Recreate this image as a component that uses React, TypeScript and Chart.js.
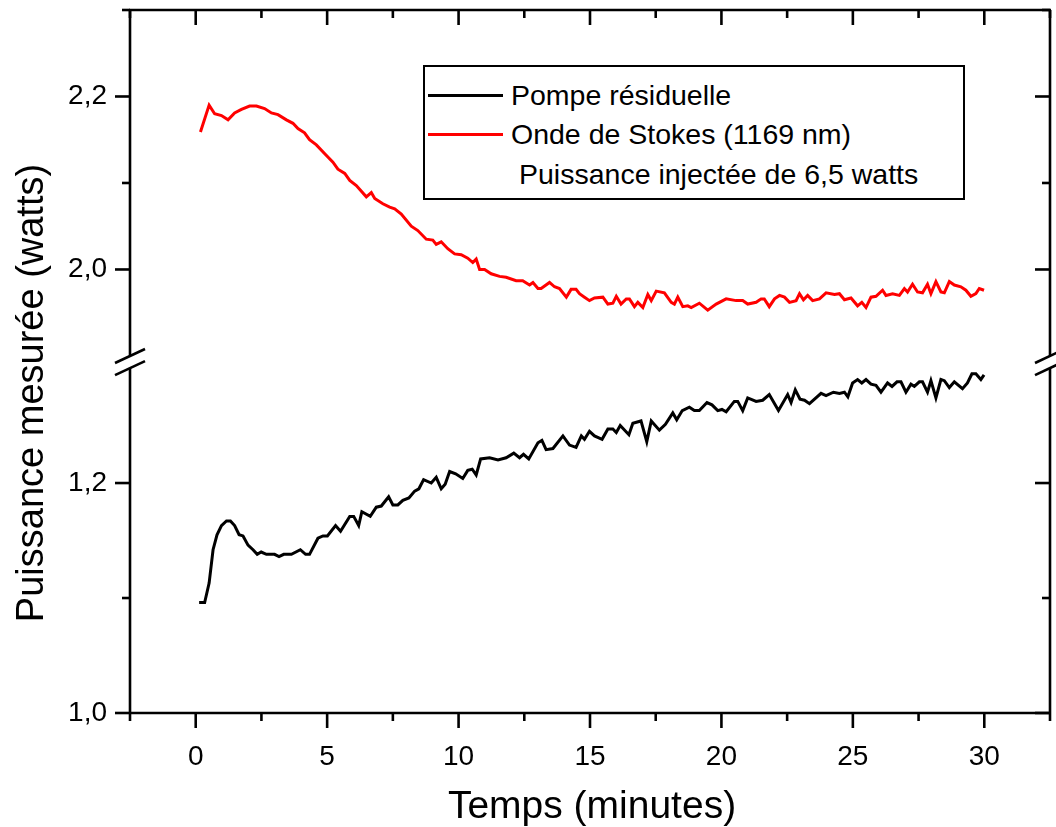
import React, { useEffect, useRef } from "react";
import { Chart, registerables } from "chart.js";

Chart.register(...registerables);

const FONT = '"Liberation Sans", Arial, Helvetica, sans-serif';

// ---- Data (time in minutes, power in watts) ----
const stokesTimes = [
  0.18, 0.51, 0.72, 0.98, 1.23, 1.48, 1.74, 2.05, 2.31, 2.62, 2.88, 3.13, 3.45, 3.7, 3.89, 4.14, 4.33, 4.59, 4.9, 5.22,
  5.41, 5.67, 5.86, 6.11, 6.49, 6.68, 6.81, 7.12, 7.38, 7.57, 7.82, 8.2, 8.45, 8.77, 9.02, 9.15, 9.34, 9.59, 9.85, 10.1,
  10.35, 10.54, 10.67, 10.8, 10.99, 11.24, 11.56, 11.81, 12.19, 12.44, 12.7, 12.83, 13.02, 13.14, 13.46, 13.65, 13.84, 14.1, 14.28, 14.47,
  14.6, 14.79, 14.98, 15.17, 15.49, 15.68, 15.87, 16.0, 16.18, 16.38, 16.5, 16.69, 16.82, 17.01, 17.2, 17.33, 17.52, 17.83, 18.09, 18.21,
  18.34, 18.53, 18.72, 18.85, 19.16, 19.48, 19.8, 20.18, 20.56, 20.81, 21.0, 21.32, 21.51, 21.63, 21.82, 22.02, 22.21, 22.4, 22.59, 22.84,
  22.97, 23.12, 23.28, 23.47, 23.73, 23.98, 24.3, 24.49, 24.68, 24.93, 25.18, 25.34, 25.5, 25.69, 25.88, 26.13, 26.26, 26.51, 26.77, 26.96,
  27.08, 27.27, 27.46, 27.65, 27.84, 27.97, 28.16, 28.35, 28.48, 28.67, 28.86, 29.11, 29.3, 29.49, 29.68, 29.81, 29.99,
];
const stokesPower = [
  2.159, 2.19, 2.18, 2.178, 2.173, 2.181, 2.185, 2.189, 2.189, 2.186, 2.181, 2.179, 2.173, 2.169, 2.163, 2.158, 2.15, 2.144, 2.134, 2.124,
  2.116, 2.111, 2.103, 2.097, 2.084, 2.089, 2.082, 2.076, 2.072, 2.07, 2.064, 2.05, 2.045, 2.035, 2.034, 2.029, 2.032, 2.024, 2.018, 2.017,
  2.013, 2.008, 2.012, 2.0, 2.0, 1.995, 1.992, 1.991, 1.987, 1.987, 1.982, 1.985, 1.978, 1.978, 1.985, 1.98, 1.978, 1.968, 1.977, 1.977,
  1.972, 1.968, 1.964, 1.967, 1.968, 1.96, 1.961, 1.969, 1.96, 1.966, 1.966, 1.957, 1.962, 1.956, 1.971, 1.964, 1.975, 1.973, 1.962, 1.96,
  1.968, 1.957, 1.958, 1.956, 1.961, 1.953, 1.96, 1.966, 1.964, 1.964, 1.96, 1.962, 1.966, 1.966, 1.957, 1.966, 1.97, 1.968, 1.962, 1.964,
  1.972, 1.965, 1.97, 1.964, 1.966, 1.973, 1.971, 1.972, 1.965, 1.967, 1.958, 1.962, 1.956, 1.968, 1.969, 1.976, 1.97, 1.972, 1.97, 1.978,
  1.974, 1.983, 1.974, 1.973, 1.983, 1.972, 1.986, 1.974, 1.973, 1.986, 1.982, 1.98, 1.976, 1.969, 1.972, 1.978, 1.976,
];

const pumpTimes = [
  0.13, 0.34, 0.51, 0.66, 0.81, 0.98, 1.17, 1.32, 1.48, 1.65, 1.8, 1.99, 2.18, 2.34, 2.49, 2.69, 3.0, 3.17, 3.35, 3.64,
  3.98, 4.18, 4.33, 4.65, 4.84, 5.01, 5.32, 5.51, 5.86, 6.01, 6.2, 6.32, 6.64, 6.87, 7.06, 7.34, 7.5, 7.69, 7.88, 8.11,
  8.33, 8.49, 8.67, 8.96, 9.15, 9.34, 9.49, 9.66, 9.89, 10.16, 10.35, 10.52, 10.67, 10.84, 11.18, 11.5, 11.81, 12.1, 12.32, 12.47,
  12.67, 13.02, 13.17, 13.33, 13.59, 13.97, 14.22, 14.47, 14.67, 14.79, 14.98, 15.17, 15.46, 15.68, 15.87, 16.0, 16.15, 16.48, 16.63, 16.94,
  17.16, 17.33, 17.64, 17.87, 18.15, 18.3, 18.51, 18.78, 18.97, 19.16, 19.45, 19.64, 19.86, 20.02, 20.18, 20.49, 20.62, 20.81, 21.0, 21.32,
  21.57, 21.82, 22.17, 22.52, 22.65, 22.81, 22.99, 23.16, 23.35, 23.79, 23.98, 24.26, 24.49, 24.68, 24.81, 24.99, 25.18, 25.34, 25.5, 25.69,
  25.88, 26.07, 26.32, 26.49, 26.68, 26.83, 27.02, 27.21, 27.34, 27.53, 27.65, 27.84, 27.97, 28.16, 28.35, 28.48, 28.67, 28.86, 29.17, 29.36,
  29.53, 29.68, 29.87, 29.99,
];
const pumpPower = [
  1.096, 1.096, 1.113, 1.142, 1.155, 1.163, 1.167, 1.167, 1.163, 1.155, 1.154, 1.146, 1.142, 1.138, 1.14, 1.138, 1.138, 1.136, 1.138, 1.138,
  1.142, 1.138, 1.138, 1.152, 1.154, 1.154, 1.163, 1.158, 1.171, 1.171, 1.163, 1.175, 1.171, 1.179, 1.18, 1.188, 1.181, 1.181, 1.185, 1.187,
  1.193, 1.195, 1.203, 1.2, 1.205, 1.195, 1.199, 1.21, 1.208, 1.204, 1.211, 1.212, 1.207, 1.221, 1.222, 1.22, 1.222, 1.226, 1.222, 1.225,
  1.221, 1.235, 1.237, 1.229, 1.23, 1.241, 1.233, 1.231, 1.241, 1.238, 1.245, 1.241, 1.238, 1.247, 1.247, 1.244, 1.25, 1.242, 1.252, 1.254,
  1.236, 1.254, 1.246, 1.251, 1.261, 1.255, 1.263, 1.266, 1.263, 1.263, 1.27, 1.268, 1.263, 1.264, 1.262, 1.271, 1.271, 1.263, 1.274, 1.271,
  1.272, 1.277, 1.263, 1.277, 1.27, 1.281, 1.273, 1.272, 1.269, 1.278, 1.276, 1.279, 1.278, 1.279, 1.275, 1.287, 1.29, 1.287, 1.29, 1.286,
  1.285, 1.279, 1.287, 1.284, 1.288, 1.288, 1.279, 1.286, 1.284, 1.288, 1.288, 1.279, 1.289, 1.274, 1.29, 1.289, 1.283, 1.288, 1.282, 1.287,
  1.295, 1.295, 1.29, 1.294,
];

// ---- Labels & ticks ----
const seriesLabels = ["Pompe résiduelle", "Onde de Stokes (1169 nm)"];
const seriesColors = ["#000000", "#ff0000"];
const legendNote = "Puissance injectée de 6,5 watts";
const xTitle = "Temps (minutes)";
const yTitle = "Puissance mesurée (watts)";

const xMajorTicks = [0, 5, 10, 15, 20, 25, 30];
const xMinorTicks = [-2.5, 2.5, 7.5, 12.5, 17.5, 22.5, 27.5, 32.5];
const yTopMajorTicks = [2.0, 2.2];
const yTopMajorLabels = ["2,0", "2,2"];
const yTopMinorTicks = [2.1, 2.3];
const yBottomMajorTicks = [1.0, 1.2];
const yBottomMajorLabels = ["1,0", "1,2"];
const yBottomMinorTicks = [1.1];

// axis ranges (broken y axis: upper part starts at 1.9, lower part ends at 1.3)
const X_MIN = -2.5;
const X_MAX = 32.5;
const TOP_MIN = 1.8936;
const TOP_MAX = 2.3;
const TOP_BREAK = 1.9;
const BOTTOM_MIN = 1.0;
const BOTTOM_MAX = 1.3057;
const BOTTOM_BREAK = 1.3;

const framePlugin = {
  id: "frame",
  afterDatasetsDraw(chart: any) {
    const { ctx, chartArea, scales } = chart;
    const { left, right, top, bottom } = chartArea;
    const xs = scales.x;
    const yt = scales.yTop;
    const yb = scales.yBot;
    const gapTop = yt.getPixelForValue(TOP_BREAK);
    const gapBot = yb.getPixelForValue(BOTTOM_BREAK);
    const MAJ = 15;
    const MIN = 8;
    ctx.save();
    ctx.strokeStyle = "#000";
    ctx.lineWidth = 2.6;
    ctx.lineCap = "butt";
    const seg = (x1: number, y1: number, x2: number, y2: number) => {
      ctx.beginPath();
      ctx.moveTo(x1, y1);
      ctx.lineTo(x2, y2);
      ctx.stroke();
    };
    // frame
    seg(left - 1, top, right + 1, top);
    seg(left - 1, bottom, right + 1, bottom);
    seg(left, top, left, gapTop);
    seg(left, gapBot, left, bottom);
    seg(right, top, right, gapTop);
    seg(right, gapBot, right, bottom);
    // x ticks
    xMajorTicks.forEach((v) => {
      const p = xs.getPixelForValue(v);
      seg(p, bottom, p, bottom + MAJ);
      seg(p, top, p, top + MAJ);
    });
    xMinorTicks.forEach((v) => {
      const p = xs.getPixelForValue(v);
      seg(p, bottom, p, bottom + MIN);
      seg(p, top, p, top + MIN);
    });
    // y ticks
    const yTick = (p: number, len: number) => {
      seg(left - len, p, left, p);
      seg(right - len, p, right, p);
    };
    yTopMajorTicks.forEach((v) => yTick(yt.getPixelForValue(v), MAJ));
    yTopMinorTicks.forEach((v) => yTick(yt.getPixelForValue(v), MIN));
    yBottomMajorTicks.forEach((v) => yTick(yb.getPixelForValue(v), MAJ));
    yBottomMinorTicks.forEach((v) => yTick(yb.getPixelForValue(v), MIN));
    // break marks
    [left, right].forEach((sx) => {
      seg(sx - 15, gapTop + 7, sx + 15, gapTop - 7);
      seg(sx - 15, gapBot + 7, sx + 15, gapBot - 7);
    });
    // axis titles
    ctx.fillStyle = "#000";
    ctx.font = `39px ${FONT}`;
    ctx.textAlign = "center";
    ctx.textBaseline = "alphabetic";
    ctx.fillText(xTitle, (left + right) / 2 + 2, 818);
    ctx.save();
    ctx.translate(43, 393);
    ctx.rotate(-Math.PI / 2);
    ctx.font = `38px ${FONT}`;
    ctx.fillText(yTitle, 0, 0);
    ctx.restore();
    ctx.restore();
  },
};

const fitY = (s: any) => {
  s.width = 130;
  s.paddingTop = 0;
  s.paddingBottom = 0;
};

export default function App() {
  const canvasRef = useRef<HTMLCanvasElement | null>(null);

  useEffect(() => {
    const canvas = canvasRef.current;
    if (!canvas) return;
    const tickFont = { family: FONT, size: 28 };
    const chart = new Chart(canvas, {
      type: "line",
      data: {
        datasets: [
          {
            label: seriesLabels[0],
            data: pumpTimes.map((t, i) => ({ x: t, y: pumpPower[i] })),
            yAxisID: "yBot",
            borderColor: seriesColors[0],
            borderWidth: 3,
            pointRadius: 0,
            tension: 0,
            fill: false,
          },
          {
            label: seriesLabels[1],
            data: stokesTimes.map((t, i) => ({ x: t, y: stokesPower[i] })),
            yAxisID: "yTop",
            borderColor: seriesColors[1],
            borderWidth: 3,
            pointRadius: 0,
            tension: 0,
            fill: false,
          },
        ],
      },
      options: {
        animation: false,
        responsive: false,
        events: [],
        layout: { padding: { top: 10, right: 6, left: 0, bottom: 0 } },
        plugins: { legend: { display: false }, tooltip: { enabled: false } },
        scales: {
          x: {
            type: "linear",
            position: "bottom",
            min: X_MIN,
            max: X_MAX,
            grid: { display: false, drawTicks: false },
            border: { display: false },
            afterBuildTicks: (s: any) => {
              s.ticks = xMajorTicks.map((v) => ({ value: v }));
            },
            afterFit: (s: any) => {
              s.height = 114;
              s.paddingLeft = 0;
              s.paddingRight = 0;
            },
            ticks: {
              font: tickFont,
              color: "#000",
              padding: 27,
              maxRotation: 0,
              autoSkip: false,
              callback: (v: any) => String(v),
            },
          },
          yBot: {
            type: "linear",
            position: "left",
            stack: "y",
            stackWeight: 1,
            min: BOTTOM_MIN,
            max: BOTTOM_MAX,
            grid: { display: false, drawTicks: false },
            border: { display: false },
            afterBuildTicks: (s: any) => {
              s.ticks = yBottomMajorTicks.map((v) => ({ value: v }));
            },
            afterFit: fitY,
            ticks: {
              font: tickFont,
              color: "#000",
              padding: 23,
              autoSkip: false,
              callback: (v: any, i: number) => yBottomMajorLabels[i],
            },
          },
          yTop: {
            type: "linear",
            position: "left",
            stack: "y",
            stackWeight: 1,
            min: TOP_MIN,
            max: TOP_MAX,
            grid: { display: false, drawTicks: false },
            border: { display: false },
            afterBuildTicks: (s: any) => {
              s.ticks = yTopMajorTicks.map((v) => ({ value: v }));
            },
            afterFit: fitY,
            ticks: {
              font: tickFont,
              color: "#000",
              padding: 23,
              autoSkip: false,
              callback: (v: any, i: number) => yTopMajorLabels[i],
            },
          },
        },
      },
      plugins: [framePlugin],
    } as any);
    return () => chart.destroy();
  }, []);

  const textStyle: React.CSSProperties = {
    position: "absolute",
    fontFamily: FONT,
    fontSize: 28.5,
    lineHeight: "30px",
    whiteSpace: "nowrap",
    color: "#000",
  };

  return (
    <div style={{ position: "absolute", left: 0, top: 0, width: 1056, height: 827, background: "#fff", overflow: "hidden" }}>
      <canvas ref={canvasRef} width={1056} height={827} style={{ display: "block", width: 1056, height: 827 }} />
      <div
        style={{
          position: "absolute",
          left: 423,
          top: 65,
          width: 542,
          height: 135,
          border: "2px solid #000",
          boxSizing: "border-box",
          background: "#fff",
        }}
      />
      <div style={{ position: "absolute", left: 428, top: 94, width: 75, height: 3, background: seriesColors[0] }} />
      <div style={{ ...textStyle, left: 511, top: 80 }}>{seriesLabels[0]}</div>
      <div style={{ position: "absolute", left: 428, top: 133, width: 75, height: 3, background: seriesColors[1] }} />
      <div style={{ ...textStyle, left: 511, top: 119 }}>{seriesLabels[1]}</div>
      <div style={{ ...textStyle, left: 519, top: 159 }}>{legendNote}</div>
    </div>
  );
}
